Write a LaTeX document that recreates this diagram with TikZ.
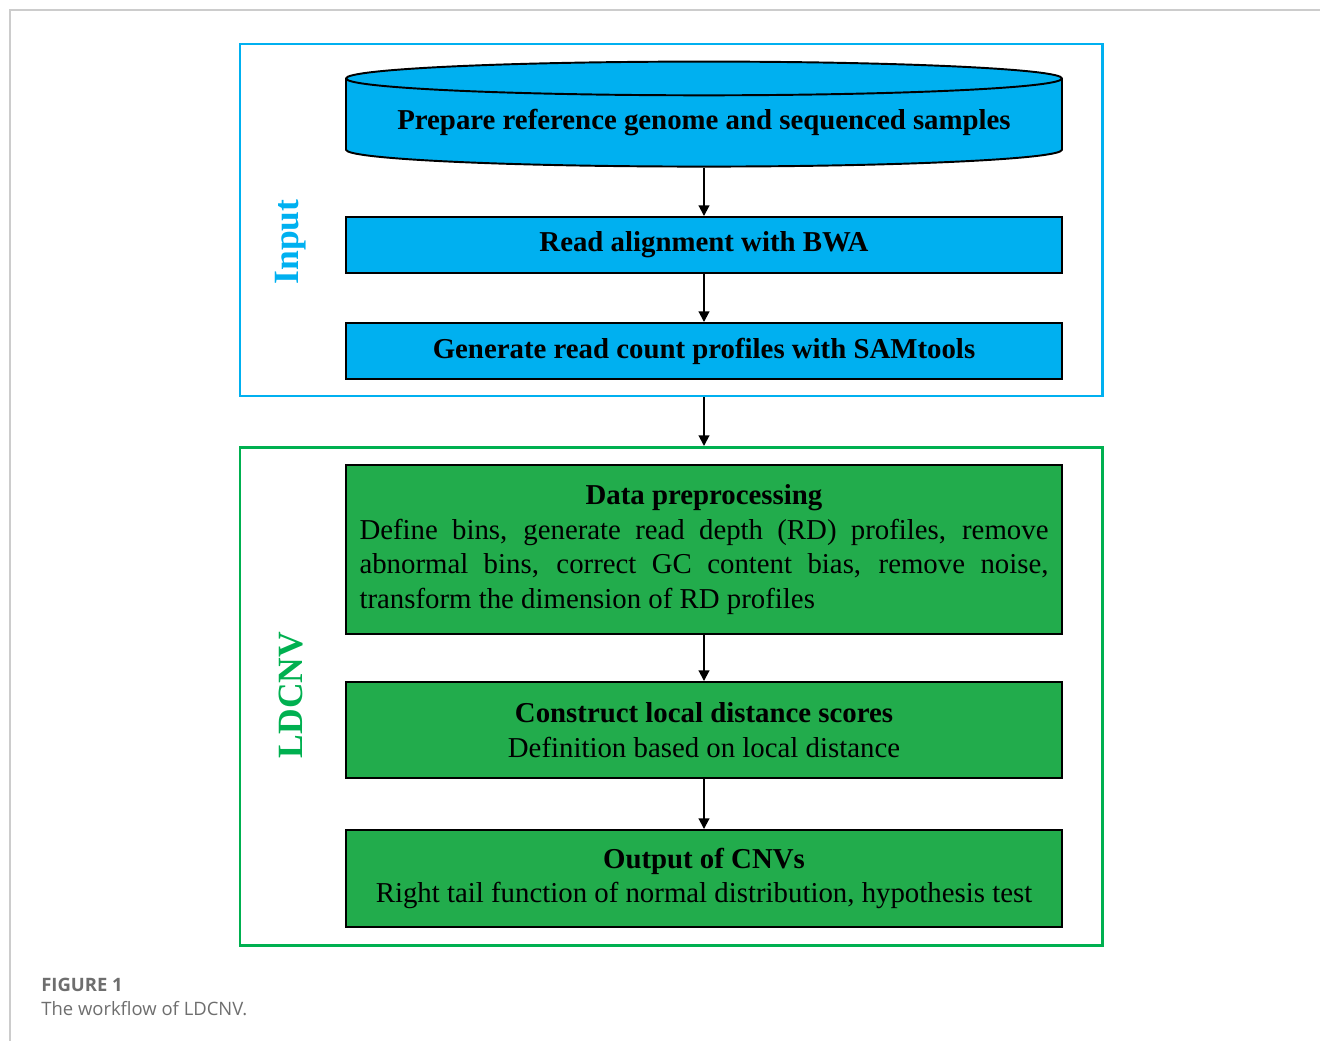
\documentclass[tikz,border=0pt]{standalone}
\usepackage{fontspec}
\setmainfont{Liberation Serif}
\newfontfamily\capfont{Open Sans}
\usetikzlibrary{shapes.geometric,arrows.meta}

\definecolor{inblue}{HTML}{00B0F0}
\definecolor{ldgreen}{HTML}{00B050}
\definecolor{boxgreen}{HTML}{22AC4C}
\definecolor{capgray}{HTML}{6E6E6E}

\tikzset{
  stage/.style={draw=black, line width=1.1pt, minimum width=14.32cm, inner sep=0pt,
    align=center, font=\fontsize{16.4}{19.7}\selectfont},
  bluestage/.style={stage, fill=inblue, minimum height=1.12cm, font=\fontsize{16.4}{19.7}\selectfont\bfseries},
  greenstage/.style={stage, fill=boxgreen},
  frame/.style={line width=1.7pt, minimum width=17.24cm, inner sep=0pt},
  sidelabel/.style={rotate=90, font=\fontsize{20.2}{24}\selectfont\bfseries},
  flow/.style={-{Triangle[length=6pt,width=6pt]}, line width=1.1pt}
}

\begin{document}
\begin{tikzpicture}
\useasboundingbox (0,0) rectangle (26.4,-20.82);
\draw[black!20, line width=0.8pt] (26.4,-0.2) -- (0.2,-0.2) -- (0.2,-20.82);

% frames
\node[frame, draw=inblue, minimum height=7.04cm] (inputframe) at (13.42,-4.40) {};
\node[frame, draw=ldgreen, minimum height=9.96cm] (ldcnvframe) at (13.42,-13.93) {};
\node[sidelabel, text=inblue] (inputlabel) at (5.82,-4.84) {Input};
\node[sidelabel, text=ldgreen] (ldcnvlabel) at (5.82,-13.90) {LDCNV};

% input steps
\node[cylinder, shape border rotate=90, shape aspect=0.055, draw=black, line width=1.1pt,
  fill=inblue, minimum width=14.32cm, minimum height=2.1cm, inner sep=0pt,
  font=\fontsize{16.4}{19.7}\selectfont\bfseries] (prep) at (14.08,-2.46)
  {Prepare reference genome and sequenced samples};
\node[bluestage] (align) at (14.08,-4.90) {Read alignment with BWA};
\node[bluestage] (count) at (14.08,-7.02) {Generate read count profiles with SAMtools};

% LDCNV steps
\node[greenstage, minimum height=3.38cm, text width=13.78cm, align=justify] (prepro) at (14.08,-10.99)
  {{\centering\bfseries Data preprocessing\par}
   Define bins, generate read depth (RD) profiles, remove\linebreak
   abnormal bins, correct GC content bias, remove noise,\linebreak
   transform the dimension of RD profiles};
\node[greenstage, minimum height=1.92cm] (scores) at (14.08,-14.60)
  {\textbf{Construct local distance scores}\\Definition based on local distance};
\node[greenstage, minimum height=1.94cm] (output) at (14.08,-17.57)
  {\textbf{Output of CNVs}\\Right tail function of normal distribution, hypothesis test};

\draw[flow] (prep.south) -- (align.north);
\draw[flow] (align) -- (count);
\draw[flow] (inputframe.south -| count) -- (ldcnvframe.north -| count);
\draw[flow] (prepro) -- (scores);
\draw[flow] (scores) -- (output);

% caption
\node[anchor=west, inner sep=0pt, text=capgray, font=\capfont\fontsize{10.5}{12.6}\selectfont\bfseries] (figno) at (0.82,-19.70) {FIGURE 1};
\node[anchor=west, inner sep=0pt, text=capgray, font=\capfont\fontsize{10.5}{12.6}\selectfont] (figcap) at (0.82,-20.18) {The workflow of LDCNV.};
\end{tikzpicture}
\end{document}
